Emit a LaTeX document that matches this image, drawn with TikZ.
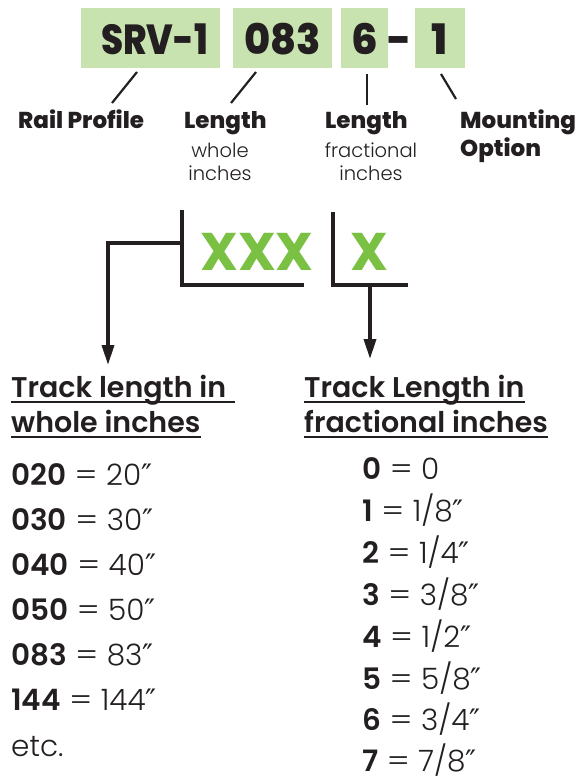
\documentclass[tikz,border=0pt]{standalone}
\usepackage{fontspec}
\usetikzlibrary{arrows.meta}
\setmainfont{Poppins}
\newfontfamily\dejavu{DejaVu Sans}
\IfFontExistsTF{DejaVu Sans ExtraLight}{\newfontfamily\dejavul{DejaVu Sans ExtraLight}}{\newcommand\dejavul{\dejavu}}
\IfFontExistsTF{Poppins Light}{\newfontfamily\lightf{Poppins Light}}{\newcommand\lightf{\normalfont}}
\IfFontExistsTF{Poppins ExtraBold}{\newfontfamily\xboldf{Poppins ExtraBold}}{\newcommand\xboldf{\bfseries}}
\IfFontExistsTF{Poppins SemiBold}{\newfontfamily\semif{Poppins SemiBold}}{\newcommand\semif{\bfseries}}
\newcommand\dpr{{\dejavul\iffontchar\font"2033 ″\else\dejavu ″\fi}}
\definecolor{ink}{HTML}{231F20}
\definecolor{boxg}{HTML}{C8E3B0}
\definecolor{xg}{HTML}{7AC143}
\tikzset{
  codebox/.style={fill=boxg, inner sep=0pt, minimum height=60bp, text height=47bp, text depth=13bp,
    font=\xboldf\fontsize{42bp}{42bp}\selectfont, text=ink},
  lbl/.style={inner sep=0pt, anchor=base west, text=ink, font=\xboldf\fontsize{23bp}{24bp}\selectfont},
  sub/.style={inner sep=0pt, anchor=base, text=ink, font=\lightf\fontsize{19.5bp}{22bp}\selectfont},
  thin/.style={draw=ink, line width=2.2bp},
  brk/.style={draw=ink, line width=3.6bp},
  arr/.style={brk, -{Triangle[length=20bp,width=12bp]}},
  xx/.style={inner sep=0pt, anchor=base west, text=xg, font=\bfseries\fontsize{53bp}{53bp}\selectfont},
  head/.style={inner sep=0pt, anchor=base west, text=ink, font=\semif\fontsize{28.5bp}{30bp}\selectfont},
  uline/.style={draw=ink, line width=2bp},
  row/.style={inner sep=0pt, anchor=base west, text=ink, font=\lightf\fontsize{29.5bp}{30bp}\selectfont},
}
\newcommand\kv[2]{{\bfseries #1}\hspace{8.5bp}\scalebox{1.15}[1]{=}\hspace{8.5bp}#2}
\begin{document}
\begin{tikzpicture}[x=1bp, y=-1bp]
\useasboundingbox (0,0) rectangle (579,781);
% code boxes
\node[codebox, minimum width=139bp] (b1) at (150.5,38) {\hspace{8bp}\scalebox{0.85}[1]{SRV-1}};
\node[codebox, minimum width=99bp] (b2) at (282.5,38) {\scalebox{0.95}[1]{083}};
\node[codebox, minimum width=47bp] (b3) at (364.5,38) {6};
\node[inner sep=0pt, anchor=base, text=ink, font=\xboldf\fontsize{42bp}{42bp}\selectfont] (dash) at (400,55) {-};
\node[codebox, minimum width=50bp] (b4) at (440,38) {1};
% labels
\node[lbl] (l1) at (18,128) {Rail Profile};
\node[lbl] (l2) at (184,128) {Length};
\node[sub] (l2a) at (220,157) {whole};
\node[sub] (l2b) at (220,180) {inches};
\node[lbl] (l3) at (325,128) {Length};
\node[sub] (l3a) at (371,157) {fractional};
\node[sub] (l3b) at (371,180) {inches};
\node[lbl] (l4) at (460,128) {Mounting};
\node[lbl] (l4b) at (460,156) {Option};
% pointer lines
\coordinate (p1a) at (137,72); \coordinate (p1b) at (112,103);
\coordinate (p2a) at (256,72); \coordinate (p2b) at (231,103);
\coordinate (p3a) at (367,74); \coordinate (p3b) at (367,105);
\coordinate (p4a) at (441,74); \coordinate (p4b) at (456,99);
\draw[thin] (p1a) -- (p1b);
\draw[thin] (p2a) -- (p2b);
\draw[thin] (p3a) -- (p3b);
\draw[thin] (p4a) -- (p4b);
% XXX X brackets
\node[xx] (xxx) at (200,270) {XXX};
\node[xx] (x1) at (350,270) {X};
\coordinate (k1t) at (182,210); \coordinate (k1c) at (182,285); \coordinate (k1e) at (304,285);
\coordinate (k2t) at (333,212); \coordinate (k2c) at (333,285); \coordinate (k2e) at (408,285);
\draw[brk] (k1t) -- (k1c) -- (k1e);
\draw[brk] (k2t) -- (k2c) -- (k2e);
\coordinate (a1s) at (182,243); \coordinate (a1e) at (108,365);
\coordinate (a2s) at (370,285); \coordinate (a2e) at (370,359);
\draw[arr] (a1s) -| (a1e);
\draw[arr] (a2s) -- (a2e);
% headings
\node[head] (h1) at (11,397) {Track length in};
\node[head] (h2) at (11,432) {whole inches};
\node[head] (h3) at (304,397) {Track Length in};
\node[head] (h4) at (304,432) {fractional inches};
\draw[uline] ([yshift=-5bp]h1.base west) -- ([yshift=-5bp,xshift=9bp]h1.base east);
\draw[uline] ([yshift=-5bp]h2.base west) -- ([yshift=-5bp]h2.base east);
\draw[uline] ([yshift=-5bp]h3.base west) -- ([yshift=-5bp]h3.base east);
\draw[uline] ([yshift=-5bp]h4.base west) -- ([yshift=-5bp]h4.base east);
% left list
\node[row] (w1) at (11,485) {\kv{020}{20\dpr}};
\node[row] (w2) at (11,530) {\kv{030}{30\dpr}};
\node[row] (w3) at (11,575) {\kv{040}{40\dpr}};
\node[row] (w4) at (11,620) {\kv{050}{50\dpr}};
\node[row] (w5) at (11,665) {\kv{083}{83\dpr}};
\node[row] (w6) at (11,710) {\kv{144}{144\dpr}};
\node[row] (w7) at (11,756) {etc.};
% right list
\node[row] (f0) at (362,479) {\kv{0}{0}};
\node[row] (f1) at (362,521) {\kv{1}{1/8\dpr}};
\node[row] (f2) at (362,563) {\kv{2}{1/4\dpr}};
\node[row] (f3) at (362,605) {\kv{3}{3/8\dpr}};
\node[row] (f4) at (362,647) {\kv{4}{1/2\dpr}};
\node[row] (f5) at (362,689) {\kv{5}{5/8\dpr}};
\node[row] (f6) at (362,730) {\kv{6}{3/4\dpr}};
\node[row] (f7) at (362,771) {\kv{7}{7/8\dpr}};
\end{tikzpicture}
\end{document}
